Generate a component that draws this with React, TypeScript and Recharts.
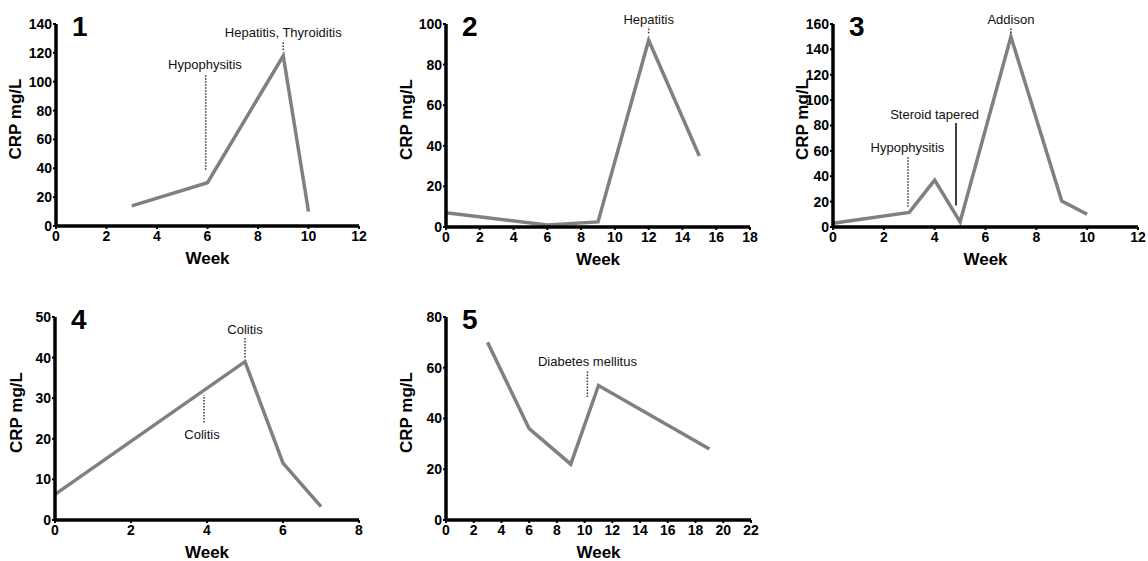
// Five small CRP-over-time panels (Recharts), one LineChart per patient.
import React from 'react';
import { LineChart, Line, XAxis, YAxis, ReferenceLine, ReferenceDot } from 'recharts';

// --- data ---
const weeks1 = [3, 6, 9, 10];
const crp1 = [14, 30, 118, 10];
const xTicks1 = [0, 2, 4, 6, 8, 10, 12];
const yTicks1 = [0, 20, 40, 60, 80, 100, 120, 140];

const weeks2 = [0, 6, 9, 12, 15];
const crp2 = [7, 1, 2.5, 92, 35];
const xTicks2 = [0, 2, 4, 6, 8, 10, 12, 14, 16, 18];
const yTicks2 = [0, 20, 40, 60, 80, 100];

const weeks3 = [0, 3, 4, 5, 7, 9, 10];
const crp3 = [3, 11.5, 37, 4, 150, 20.5, 10];
const xTicks3 = [0, 2, 4, 6, 8, 10, 12];
const yTicks3 = [0, 20, 40, 60, 80, 100, 120, 140, 160];

const weeks4 = [0, 5, 6, 7];
const crp4 = [6.3, 39, 14, 3.3];
const xTicks4 = [0, 2, 4, 6, 8];
const yTicks4 = [0, 10, 20, 30, 40, 50];

const weeks5 = [3, 6, 9, 11, 19];
const crp5 = [70, 36, 22, 53, 28];
const xTicks5 = [0, 2, 4, 6, 8, 10, 12, 14, 16, 18, 20, 22];
const yTicks5 = [0, 20, 40, 60, 80];

// event notes: label text + where it sits, and the marker line under it
const notes1 = [
  { text: 'Hypophysitis', x: 5.9, y: 112 },
  { text: 'Hepatitis, Thyroiditis', x: 9, y: 134 },
];
const marks1 = [
  { x: 5.93, from: 39, to: 105, dashed: true },
  { x: 9, from: 122, to: 128, dashed: true },
];
const notes2 = [{ text: 'Hepatitis', x: 12, y: 102.5 }];
const marks2 = [{ x: 12, from: 95.5, to: 98.5, dashed: true }];
const notes3 = [
  { text: 'Hypophysitis', x: 2.93, y: 63 },
  { text: 'Steroid tapered', x: 4, y: 89 },
  { text: 'Addison', x: 7, y: 164 },
];
const marks3 = [
  { x: 2.95, from: 16, to: 55, dashed: true },
  { x: 4.84, from: 17, to: 82, dashed: false },
  { x: 7, from: 153, to: 157, dashed: true },
];
const notes4 = [
  { text: 'Colitis', x: 5, y: 47 },
  { text: 'Colitis', x: 3.87, y: 21 },
];
const marks4 = [
  { x: 5, from: 40, to: 45, dashed: true },
  { x: 3.92, from: 24, to: 30.8, dashed: true },
];
const notes5 = [{ text: 'Diabetes mellitus', x: 10.2, y: 62.6 }];
const marks5 = [{ x: 10.2, from: 48.5, to: 59, dashed: true }];

const toRows = (weeks: number[], crp: number[]) => weeks.map((w, i) => ({ week: w, crp: crp[i] }));

const FONT = "'Liberation Sans', Arial, Helvetica, sans-serif";
const LINE = '#808080';

type Note = { text: string; x: number; y: number };
type Mark = { x: number; from: number; to: number; dashed: boolean };

interface PanelProps {
  num: string;
  rows: { week: number; crp: number }[];
  xTicks: number[];
  yTicks: number[];
  notes: Note[];
  marks: Mark[];
  plotLeft: number;
  plotTop: number;
  plotW: number;
  plotH: number;
  titleDx: number;
  weekDy: number;
}

const AXIS_W = 56;
const TOP = 24;
const X_H = 44;
const RIGHT = 14;

const tickStyle = { fill: '#000', fontSize: 14, fontWeight: 'bold', fontFamily: FONT };

function Panel(p: PanelProps) {
  const width = AXIS_W + p.plotW + RIGHT;
  const height = TOP + p.plotH + X_H;
  const yTitle = () => {
    const cx = AXIS_W - p.titleDx;
    const cy = TOP + p.plotH / 2 - 6;
    return (
      <text x={cx} y={cy} transform={`rotate(-90 ${cx} ${cy})`} textAnchor="middle" dominantBaseline="central"
        fontSize={17} fontWeight="bold" fill="#000" fontFamily={FONT}>CRP mg/L</text>
    );
  };
  const xTitle = () => (
    <text x={AXIS_W + p.plotW / 2} y={TOP + p.plotH + p.weekDy} textAnchor="middle" dominantBaseline="central"
      fontSize={17} fontWeight="bold" fill="#000" fontFamily={FONT}>Week</text>
  );
  const xMax = p.xTicks[p.xTicks.length - 1];
  const yMax = p.yTicks[p.yTicks.length - 1];
  return (
    <div style={{ position: 'absolute', left: p.plotLeft - AXIS_W, top: p.plotTop - TOP, width, height }}>
      <LineChart width={width} height={height} data={p.rows} margin={{ top: TOP, right: RIGHT, left: 0, bottom: 0 }}>
        <XAxis type="number" dataKey="week" domain={[0, xMax]} ticks={p.xTicks} height={X_H}
          axisLine={{ stroke: '#000', strokeWidth: 3.5 }} tickLine={{ stroke: '#000', strokeWidth: 2 }}
          tickSize={3} tickMargin={2} interval={0} tick={tickStyle} label={xTitle} />
        <YAxis type="number" domain={[0, yMax]} ticks={p.yTicks} width={AXIS_W}
          axisLine={{ stroke: '#000', strokeWidth: 3.5 }} tickLine={{ stroke: '#000', strokeWidth: 2 }}
          tickSize={3} tickMargin={1} interval={0} tick={tickStyle} label={yTitle} />
        <Line type="linear" dataKey="crp" stroke={LINE} strokeWidth={3.5} dot={false} isAnimationActive={false} />
        {p.marks.map((m, i) => (
          <ReferenceLine key={'m' + i} segment={[{ x: m.x, y: m.from }, { x: m.x, y: m.to }]} ifOverflow="visible"
            stroke={m.dashed ? '#333' : '#000'} strokeWidth={1.5} strokeDasharray={m.dashed ? '1.5 1.5' : undefined} />
        ))}
        {p.notes.map((n, i) => (
          <ReferenceDot key={'n' + i} x={n.x} y={n.y} r={0} fill="none" stroke="none" ifOverflow="visible"
            label={{ value: n.text, position: 'center', fill: '#111', fontSize: 13, fontFamily: FONT }} />
        ))}
      </LineChart>
      <div style={{ position: 'absolute', left: AXIS_W + 16, top: TOP - 11, fontFamily: FONT, fontWeight: 'bold',
        fontSize: 28, lineHeight: '28px', color: '#000' }}>{p.num}</div>
    </div>
  );
}

export default function App() {
  return (
    <div style={{ position: 'absolute', left: 0, top: 0, width: 1148, height: 561, background: '#fff', overflow: 'hidden' }}>
      <Panel num="1" rows={toRows(weeks1, crp1)} xTicks={xTicks1} yTicks={yTicks1} notes={notes1} marks={marks1}
        plotLeft={56} plotTop={24} plotW={303} plotH={202} titleDx={41} weekDy={32} />
      <Panel num="2" rows={toRows(weeks2, crp2)} xTicks={xTicks2} yTicks={yTicks2} notes={notes2} marks={marks2}
        plotLeft={446} plotTop={24} plotW={304} plotH={203} titleDx={40} weekDy={32} />
      <Panel num="3" rows={toRows(weeks3, crp3)} xTicks={xTicks3} yTicks={yTicks3} notes={notes3} marks={marks3}
        plotLeft={833} plotTop={24} plotW={305} plotH={203} titleDx={31} weekDy={32} />
      <Panel num="4" rows={toRows(weeks4, crp4)} xTicks={xTicks4} yTicks={yTicks4} notes={notes4} marks={marks4}
        plotLeft={55} plotTop={317} plotW={304} plotH={203} titleDx={39} weekDy={32} />
      <Panel num="5" rows={toRows(weeks5, crp5)} xTicks={xTicks5} yTicks={yTicks5} notes={notes5} marks={marks5}
        plotLeft={446} plotTop={317} plotW={305} plotH={203} titleDx={40} weekDy={32} />
    </div>
  );
}
